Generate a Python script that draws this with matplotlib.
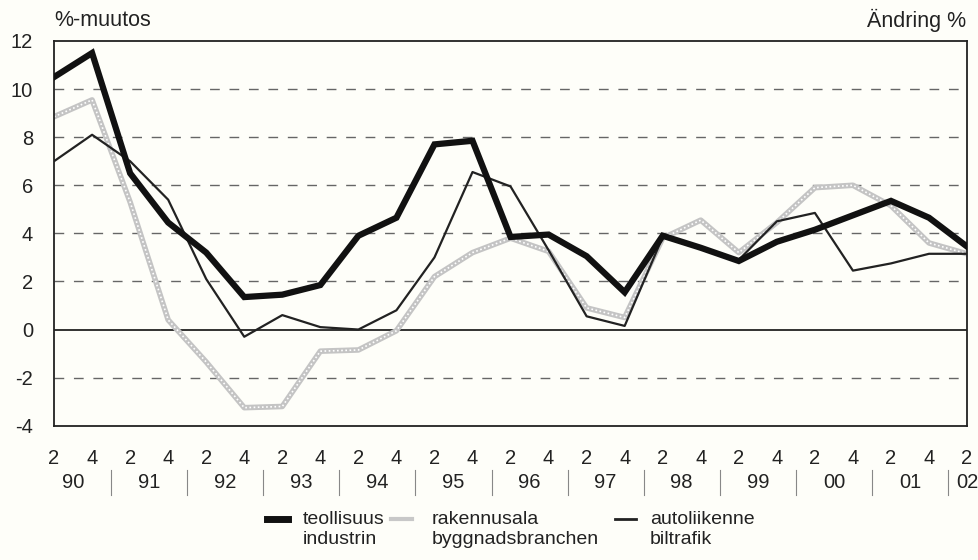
import numpy as np
import matplotlib.pyplot as plt
from matplotlib.lines import Line2D

# half-year points, 1990 Q2 .. 2002 Q2
years = ['90', '91', '92', '93', '94', '95', '96', '97', '98', '99', '00', '01', '02']
quarter_labels = ['2', '4'] * 12 + ['2']

teollisuus = [10.5, 11.5, 6.5, 4.45, 3.2, 1.35, 1.45, 1.85, 3.9, 4.65, 7.7, 7.85, 3.85,
              3.95, 3.05, 1.55, 3.9, 3.4, 2.85, 3.65, 4.15, 4.75, 5.35, 4.65, 3.45]
rakennusala = [8.85, 9.55, 5.3, 0.4, -1.35, -3.25, -3.2, -0.9, -0.85, -0.05, 2.2, 3.2, 3.8,
               3.25, 0.9, 0.5, 3.8, 4.55, 3.2, 4.45, 5.9, 6.0, 5.15, 3.6, 3.15]
autoliikenne = [7.0, 8.1, 7.0, 5.4, 2.1, -0.3, 0.6, 0.1, 0.0, 0.8, 3.0, 6.55, 5.95,
                3.3, 0.55, 0.15, 3.85, 3.35, 2.9, 4.5, 4.85, 2.45, 2.75, 3.15, 3.15]

font = ['Liberation Sans', 'DejaVu Sans']
bg = '#fefef9'
ink = '#222222'

fig = plt.figure(figsize=(9.79, 5.6), dpi=100, facecolor=bg)
ax = fig.add_axes([0.0552, 0.2398, 0.9326, 0.6870], facecolor=bg)

x = np.arange(len(teollisuus))

# grid
for yv in [-2, 2, 4, 6, 8, 10]:
    ax.axhline(yv, color='#666666', lw=1, dashes=(7, 7), zorder=1)
ax.axhline(0, color=ink, lw=1.3, zorder=1)

ax.plot(x, rakennusala, color='#c4c4c4', lw=4, solid_joinstyle='round', zorder=2)
ax.plot(x, rakennusala, color='white', lw=1.2, ls=(0, (1, 1.5)), zorder=2)
ax.plot(x, autoliikenne, color=ink, lw=1.6, zorder=3)
ax.plot(x, teollisuus, color='#111111', lw=4.5, solid_joinstyle='miter', zorder=4)

ax.set_xlim(0, 24)
ax.set_ylim(-4, 12)
ax.set_yticks(range(-4, 13, 2))
ax.set_yticklabels([str(v) for v in range(-4, 13, 2)], family=font, fontsize=14.5)
ax.set_xticks(x)
ax.set_xticklabels(quarter_labels, family=font, fontsize=14.5)
ax.tick_params(axis='both', length=0, colors=ink)
ax.tick_params(axis='y', pad=15)
ax.tick_params(axis='x', pad=16.5)
for s in ax.spines.values():
    s.set_color(ink)
    s.set_linewidth(1.3)

# year labels and separators
tr = ax.get_xaxis_transform()
for i, yr in enumerate(years):
    xp = 2 * i + 0.5 if i < len(years) - 1 else 24
    ax.text(xp, -0.148, yr, transform=tr, ha='center', va='center',
            family=font, fontsize=14.5, color=ink)
for i in range(12):
    ax.plot([2 * i + 1.5] * 2, [-0.114, -0.179], transform=tr, color='#888888',
            lw=0.8, clip_on=False)

fig.text(0.0552, 0.964, '%-muutos', family=font, fontsize=15.5, ha='left', va='center',
         color=ink)
fig.text(0.987, 0.964, 'Ändring %', family=font, fontsize=15.5, ha='right', va='center',
         color=ink)

# legend
leg = [(267, 303, 'teollisuus', 'industrin', dict(color='#111111', lw=5)),
       (391, 432, 'rakennusala', 'byggnadsbranchen', dict(color='#c8c8c8', lw=3)),
       (615, 650, 'autoliikenne', 'biltrafik', dict(color=ink, lw=2))]
y1 = 1 - 519 / 560
y2 = 1 - 540 / 560
for x0, xt, fi, sv, kw in leg:
    fig.add_artist(Line2D([x0 / 979, (x0 + 21) / 979], [y1, y1], **kw))
    fig.text(xt / 979, y1, fi, family=font, fontsize=14, ha='left', va='center', color=ink)
    fig.text(xt / 979, y2, sv, family=font, fontsize=14, ha='left', va='center', color=ink)

fig.savefig('out.png', dpi=100, facecolor=bg)
